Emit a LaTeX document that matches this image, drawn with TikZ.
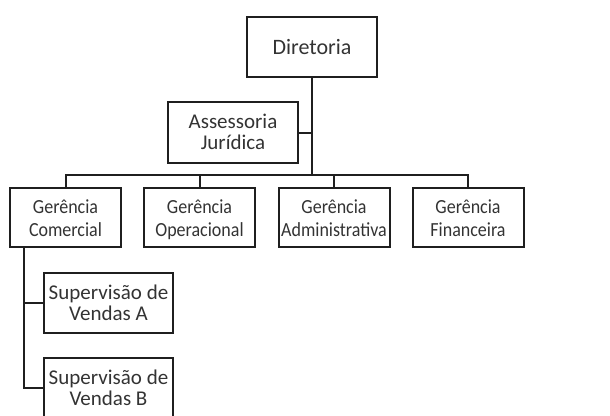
\documentclass[tikz,border=0pt]{standalone}
\usepackage{fontspec}
\setmainfont{Carlito}
\newfontfamily\gfont[FakeStretch=0.9]{Carlito}
\newcommand\gtop{\rule{0pt}{20pt}}
\newcommand\mtop{\rule{0pt}{17.7pt}}
\newcommand\lbot{\rule[-4.7pt]{0pt}{4.7pt}}
\begin{document}
\begin{tikzpicture}[x=1pt,y=-1pt,
  box/.style={draw=black!88, line width=2pt, rectangle, inner sep=0pt, align=center,
    text=black!80, font=\fontsize{21}{21}\selectfont},
  gbox/.style={box, minimum width=111pt, minimum height=59pt, font=\gfont\fontsize{20}{23.3}\selectfont},
  link/.style={draw=black!88, line width=2pt}]
\useasboundingbox (0,0) rectangle (610,415);
\node[box, minimum width=130pt, minimum height=60pt, font=\fontsize{22}{22}\selectfont] (dir) at (312,47) {Diretoria};
\node[box, minimum width=130pt, minimum height=61pt] (ass) at (233,132.5) {\mtop Assessoria\\Jurídica\lbot};
\node[gbox] (com) at (65.5,217.5) {\gtop Gerência\\Comercial\lbot};
\node[gbox] (op) at (199.5,217.5) {\gtop Gerência\\Operacional\lbot};
\node[gbox] (adm) at (334,217.5) {\gtop Gerência\\Administrativa\lbot};
\node[gbox] (fin) at (468,217.5) {\gtop Gerência\\Financeira\lbot};
\node[box, minimum width=129pt, minimum height=60pt] (supa) at (108.5,303) {\mtop Supervisão de\\Vendas A\lbot};
\node[box, minimum width=129pt, minimum height=60pt] (supb) at (108.5,388) {\mtop Supervisão de\\Vendas B\lbot};
\coordinate (j) at (312,175);
\coordinate (lt) at (24,247);
\draw[link] (dir.south) -- (j);
\draw[link] (ass.east) -- (ass.east -| j);
\draw[link] (com.north) |- (j) -| (fin.north);
\draw[link] (op.north) -- (op.north |- j);
\draw[link] (adm.north) -- (adm.north |- j);
\draw[link] (lt) |- (supb.west);
\draw[link] (supa.west -| lt) -- (supa.west);
\end{tikzpicture}
\end{document}
